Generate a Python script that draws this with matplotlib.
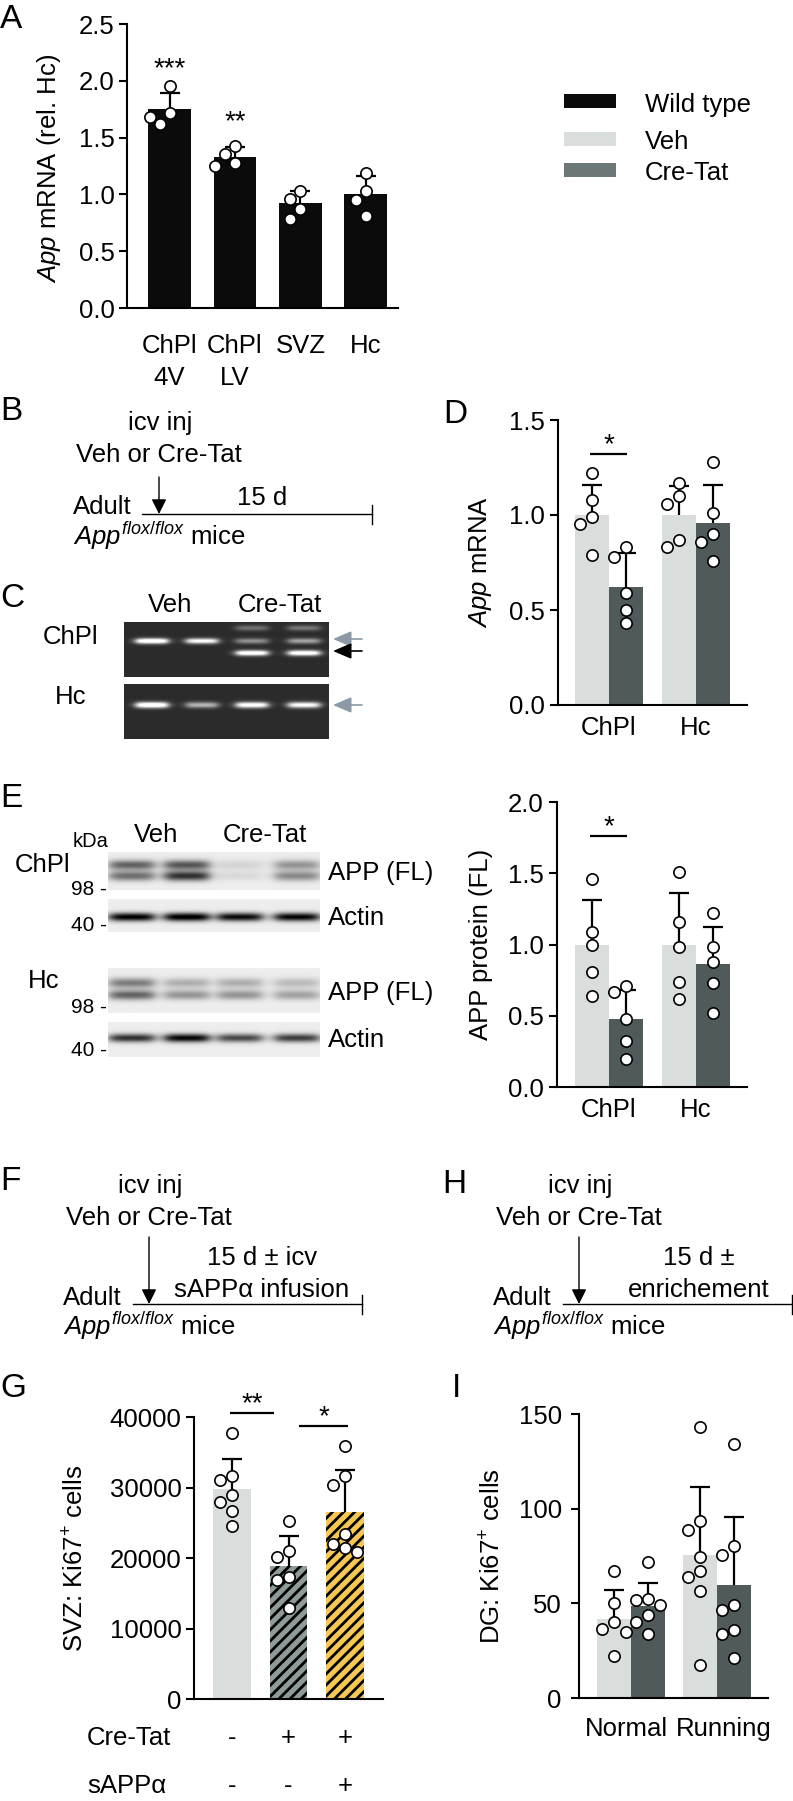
import numpy as np
import matplotlib
matplotlib.use("Agg")
import matplotlib.pyplot as plt
from matplotlib.patches import Rectangle
from matplotlib.transforms import blended_transform_factory, ScaledTranslation

W, H = 793, 1801
FS = 18.5
plt.rcParams['font.family'] = ['Liberation Sans', 'DejaVu Sans']
plt.rcParams['mathtext.fontset'] = 'custom'
plt.rcParams['mathtext.rm'] = 'Liberation Sans'
plt.rcParams['mathtext.it'] = 'Liberation Sans:italic'
plt.rcParams['hatch.linewidth'] = 2.0

# ---------------- data ----------------
a_categories = ["ChPl\n4V", "ChPl\nLV", "SVZ", "Hc"]
a_means = [1.75, 1.33, 0.92, 1.00]
a_sd = [0.14, 0.09, 0.11, 0.16]
a_points = [[1.95, 1.72, 1.68, 1.62], [1.43, 1.36, 1.28, 1.25],
            [1.03, 0.96, 0.87, 0.78], [1.19, 1.03, 0.95, 0.81]]
a_stars = ["***", "**", "", ""]
a_yticks = [0.0, 0.5, 1.0, 1.5, 2.0, 2.5]

legend_labels = ["Wild type", "Veh", "Cre-Tat"]

d_groups = ["ChPl", "Hc"]
d_veh_means = [1.00, 1.00]
d_veh_sd = [0.16, 0.15]
d_cre_means = [0.62, 0.96]
d_cre_sd = [0.18, 0.20]
d_veh_points = [[1.22, 1.08, 0.99, 0.95, 0.79], [1.17, 1.10, 1.06, 0.87, 0.83]]
d_cre_points = [[0.83, 0.78, 0.59, 0.50, 0.43], [1.28, 1.01, 0.90, 0.86, 0.76]]
d_yticks = [0.0, 0.5, 1.0, 1.5]
d_sig_y = 1.32

e_groups = ["ChPl", "Hc"]
e_veh_means = [1.00, 1.00]
e_veh_sd = [0.31, 0.36]
e_cre_means = [0.48, 0.86]
e_cre_sd = [0.20, 0.26]
e_veh_points = [[1.46, 1.09, 1.00, 0.81, 0.64], [1.51, 1.16, 0.98, 0.74, 0.62]]
e_cre_points = [[0.71, 0.67, 0.48, 0.32, 0.20], [1.22, 0.98, 0.88, 0.73, 0.52]]
e_yticks = [0.0, 0.5, 1.0, 1.5, 2.0]
e_sig_y = 1.76

g_conditions = ["Veh", "Cre-Tat", "Cre-Tat + sAPPα"]
g_means = [29800, 18900, 26500]
g_sd = [4300, 4250, 6000]
g_points = [[37780, 31650, 31040, 28920, 27880, 26650, 24530],
            [25280, 21040, 20190, 17260, 16890, 12880],
            [35900, 31600, 30420, 23350, 21930, 21370, 20800]]
g_cretat_row = ["-", "+", "+"]
g_sappa_row = ["-", "-", "+"]
g_yticks = [0, 10000, 20000, 30000, 40000]
g_sig_y = [40570, 38720]

i_groups = ["Normal", "Running"]
i_veh_means = [41.7, 75.4]
i_veh_sd = [15.5, 36.0]
i_cre_means = [48.8, 59.5]
i_cre_sd = [11.9, 36.1]
i_veh_points = [[66.9, 50.2, 40.0, 36.4, 34.9, 22.0],
                [143.0, 93.3, 88.9, 74.3, 66.9, 63.9, 56.7, 17.3]]
i_cre_points = [[71.8, 52.5, 51.6, 48.9, 44.0, 40.0, 33.8],
                [134.2, 80.1, 75.4, 48.9, 46.3, 35.7, 33.8, 21.1]]
i_yticks = [0, 50, 100, 150]

# gel band intensities (lanes: Veh, Veh, Cre-Tat, Cre-Tat)
gel_chpl_upper = [0.0, 0.0, 0.28, 0.30]
gel_chpl_floxed = [1.0, 0.85, 0.40, 0.48]
gel_chpl_deleted = [0.0, 0.0, 0.95, 0.95]
gel_hc_floxed = [1.0, 0.55, 0.90, 0.85]
# western blot band darkness
blot_chpl_app_upper = [0.55, 0.60, 0.10, 0.35]
blot_chpl_app_lower = [0.50, 0.75, 0.08, 0.40]
blot_chpl_actin = [0.95, 0.98, 0.90, 0.93]
blot_hc_app_upper = [0.45, 0.25, 0.25, 0.20]
blot_hc_app_lower = [0.55, 0.35, 0.35, 0.30]
blot_hc_actin = [0.75, 0.92, 0.65, 0.70]

# ---------------- style ----------------
WT = "#0b0b0b"
VEH = "#d9dedd"
CRE = "#505a5a"
CRE_LEG = "#6c7877"
STRIPE_GRAY = "#8e9b99"
YELLOW = "#f6c853"
ARROW_GRAY = "#8b9aa6"

fig = plt.figure(figsize=(W / 100, H / 100), dpi=100)


def px_axes(l, t, r, b):
    return fig.add_axes([l / W, 1 - b / H, (r - l) / W, (b - t) / H])


ov = px_axes(0, 0, W, H)
ov.set_xlim(0, W)
ov.set_ylim(H, 0)
ov.axis('off')


def T(x, y, s, ha='left', va='baseline', fs=FS, **kw):
    ov.text(x, y, s, ha=ha, va=va, fontsize=fs, **kw)


def style(ax, yticks, fmt, ypad, xpad):
    for s in ['top', 'right']:
        ax.spines[s].set_visible(False)
    for s in ['left', 'bottom']:
        ax.spines[s].set_linewidth(1.5)
    ax.set_yticks(yticks)
    ax.set_yticklabels([fmt.format(v) for v in yticks], fontsize=FS)
    ax.set_ylim(yticks[0], yticks[-1])
    ax.tick_params(axis='y', length=6, width=1.5, pad=ypad, direction='out')
    ax.tick_params(axis='x', length=0, pad=xpad, labelsize=FS)
    ax.patch.set_alpha(0)


def swarm_offsets(values, ppu_y, ppu_x, step=12.0, d=11.5):
    vals = np.asarray(values, float)
    order = np.argsort(-vals, kind='stable')
    placed = []
    offs = np.zeros(len(vals))
    for i in order:
        y = vals[i] * ppu_y
        x = 0.0
        for k in [0, -1, 1, -2, 2, -3, 3]:
            x = k * step
            if all((x - px) ** 2 + (y - py) ** 2 >= d * d for px, py in placed):
                break
        placed.append((x, y))
        offs[i] = x / ppu_x
    return offs


def draw_group(ax, x, mean, sd, pts, color, width, ppu_y, ppu_x, step=12.0, hatch=None):
    if hatch:
        ax.bar(x, mean, width, facecolor=color, edgecolor='k', hatch=hatch, linewidth=0, zorder=1)
    else:
        ax.bar(x, mean, width, color=color, linewidth=0, zorder=1)
    eb = ax.errorbar([x], [mean], yerr=[[0], [sd]], fmt='none', ecolor='k', elinewidth=1.6,
                     capsize=7, capthick=1.6, zorder=2)
    for cl in eb[1]:
        if np.allclose(cl.get_ydata(), mean):
            cl.set_visible(False)
    offs = swarm_offsets(pts, ppu_y, ppu_x, step=step)
    ax.scatter(x + offs, pts, s=66, facecolor='white', edgecolor='k', linewidth=1.2,
               zorder=3, clip_on=False)


def sig(ax, x0, x1, y, star, fs=20):
    ax.plot([x0, x1], [y, y], color='k', lw=1.6, clip_on=False, solid_capstyle='butt')
    ax.annotate(star, xy=((x0 + x1) / 2, y), xytext=(0, 1.5), textcoords='offset pixels',
                ha='center', va='baseline', fontsize=fs, annotation_clip=False)


# ---------------- panel A ----------------
axA = px_axes(127, 24, 398, 308)
xa = np.arange(len(a_categories))
axA.set_xlim(-0.649, 3.489)
style(axA, a_yticks, "{:.1f}", 3, 18.5)
for i in xa:
    draw_group(axA, i, a_means[i], a_sd[i], a_points[i], WT, 0.656, 284 / 2.5, 65.5, step=10)
    if a_stars[i]:
        axA.annotate(a_stars[i], xy=(i, a_means[i] + a_sd[i]), xytext=(0, 17),
                     textcoords='offset pixels', ha='center', va='baseline', fontsize=20,
                     annotation_clip=False)
axA.set_xticks(xa)
axA.set_xticklabels(a_categories, linespacing=1.45)
T(49, 168, r"$\mathit{App}$ mRNA (rel. Hc)", ha='center', va='center', rotation=90)
T(0, 28, "A", fs=24)

# legend
legend_colors = [WT, VEH, CRE_LEG]
for k, (lab, col) in enumerate(zip(legend_labels, legend_colors)):
    ytop = [94, 132, 163][k]
    ov.add_patch(Rectangle((564, ytop), 52, 14.5, facecolor=col, edgecolor='none'))
    T(645, [112, 149, 180][k], lab)

# ---------------- panel B ----------------
T(0, 420, "B", fs=24)
T(160, 430, "icv inj", ha='center')
T(159, 462, "Veh or Cre-Tat", ha='center')
T(73, 514, "Adult")
T(262, 505, "15 d", ha='center')
T(73, 545, r"$\mathit{App}^{\mathit{flox/flox}}$ mice")
ov.plot([142, 372], [514, 514], color='k', lw=1.0)
ov.plot([372, 372], [505, 524], color='k', lw=1.0)
ov.annotate('', xy=(159, 514), xytext=(159, 477),
            arrowprops=dict(arrowstyle='-|>,head_length=0.5,head_width=0.25', color='k', lw=1.0,
                            shrinkA=0, shrinkB=0, mutation_scale=18))


# ---------------- panel C (gel) ----------------
def band_image(h, w, lane_x, lane_w, rows, bands, sigma_y, bg, edge=1.5):
    yy = np.arange(h)[:, None] + 0.5
    xx = np.arange(w)[None, :] + 0.5
    img = np.full((h, w), bg, float)
    for row, ints in zip(rows, bands):
        py = np.exp(-0.5 * ((yy - row) / sigma_y) ** 2)
        for cx, a in zip(lane_x, ints):
            px = (1 / (1 + np.exp(-(xx - (cx - lane_w / 2)) / edge)) *
                  1 / (1 + np.exp((xx - (cx + lane_w / 2)) / edge)))
            img = img + a * px * py
    return np.clip(img, 0, 1)


T(0, 607, "C", fs=24)
T(170, 612, "Veh", ha='center')
T(280, 612, "Cre-Tat", ha='center')
T(43, 644, "ChPl")
T(55, 704, "Hc")
gel_lanes = [28, 78, 128, 180]
img1 = band_image(55, 205, gel_lanes, 32, [6, 19, 31],
                  [gel_chpl_upper, gel_chpl_floxed, gel_chpl_deleted], 2.0, 0.17, edge=2.5)
img2 = band_image(55, 205, gel_lanes, 32, [21], [gel_hc_floxed], 2.2, 0.17, edge=2.5)
ov.imshow(img1, cmap='gray', vmin=0, vmax=1, extent=(124, 329, 677, 622), aspect='auto',
          interpolation='bilinear')
ov.imshow(img2, cmap='gray', vmin=0, vmax=1, extent=(124, 329, 739, 684), aspect='auto',
          interpolation='bilinear')
for (yy, col) in [(639, ARROW_GRAY), (651, 'k'), (705, ARROW_GRAY)]:
    ov.annotate('', xy=(333, yy), xytext=(362, yy),
                arrowprops=dict(arrowstyle='-|>,head_length=0.7,head_width=0.3', color=col, lw=1.2,
                                shrinkA=0, shrinkB=0, mutation_scale=16))

# ---------------- panel E (blots) ----------------
T(0, 807, "E", fs=24)
T(73, 847, "kDa", fs=14.5)
T(156, 842, "Veh", ha='center')
T(265, 842, "Cre-Tat", ha='center')
T(15, 872, "ChPl")
T(28, 988, "Hc")
blot_lanes = [24, 79, 132, 189]
blots = [
    (852, 890, [13, 24], [blot_chpl_app_upper, blot_chpl_app_lower], 3.5, "APP (FL)", 880, "98 -", 895),
    (899, 932, [18], [blot_chpl_actin], 3.0, "Actin", 925, "40 -", 931),
    (968, 1013, [15, 27], [blot_hc_app_upper, blot_hc_app_lower], 3.5, "APP (FL)", 1000, "98 -", 1013),
    (1022, 1057, [16], [blot_hc_actin], 3.0, "Actin", 1047, "40 -", 1056),
]
for top, bot, rows, bands, sg, lab, lab_y, kda, kda_y in blots:
    img = band_image(bot - top, 212, blot_lanes, 44, rows, bands, sg, 0.07, edge=3.5)
    ov.imshow(img, cmap='gray_r', vmin=0, vmax=1, extent=(108, 320, bot, top), aspect='auto',
              interpolation='bilinear')
    T(328, lab_y, lab)
    T(107, kda_y, kda, ha='right', fs=15)
ov.set_xlim(0, W)
ov.set_ylim(H, 0)

# ---------------- panel D ----------------
T(443, 423, "D", fs=24)
axD = px_axes(558, 420, 747, 705)
axD.set_xlim(-0.586, 1.586)
style(axD, d_yticks, "{:.1f}", 3.5, 8)
for g in range(len(d_groups)):
    draw_group(axD, g - 0.195, d_veh_means[g], d_veh_sd[g], d_veh_points[g], VEH, 0.39, 285 / 1.5, 87)
    draw_group(axD, g + 0.195, d_cre_means[g], d_cre_sd[g], d_cre_points[g], CRE, 0.39, 285 / 1.5, 87)
axD.set_xticks(range(len(d_groups)))
axD.set_xticklabels(d_groups)
sig(axD, -0.22, 0.21, d_sig_y, "*")
T(480, 562, r"$\mathit{App}$ mRNA", ha='center', va='center', rotation=90)

# ---------------- panel E chart ----------------
axE = px_axes(557, 802, 747, 1087)
axE.set_xlim(-0.598, 1.586)
style(axE, e_yticks, "{:.1f}", 3.5, 8)
for g in range(len(e_groups)):
    draw_group(axE, g - 0.195, e_veh_means[g], e_veh_sd[g], e_veh_points[g], VEH, 0.39, 285 / 2.0, 87)
    draw_group(axE, g + 0.195, e_cre_means[g], e_cre_sd[g], e_cre_points[g], CRE, 0.39, 285 / 2.0, 87)
axE.set_xticks(range(len(e_groups)))
axE.set_xticklabels(e_groups)
sig(axE, -0.22, 0.21, e_sig_y, "*")
T(481, 944, "APP protein (FL)", ha='center', va='center', rotation=90)

# ---------------- panels F / H ----------------
for dx, letter, lx, ly, line1, line2, tx in [
        (0, "F", 0, 1190, "15 d ± icv", "sAPPα infusion", 262),
        (430, "H", 442, 1193, "15 d ±", "enrichement", 699)]:
    T(lx, ly, letter, fs=24)
    T(150 + dx, 1193, "icv inj", ha='center')
    T(149 + dx, 1225, "Veh or Cre-Tat", ha='center')
    T(tx, 1265, line1, ha='center')
    T(tx, 1297, line2, ha='center')
    T(63 + dx, 1305, "Adult")
    T(63 + dx, 1335, r"$\mathit{App}^{\mathit{flox/flox}}$ mice")
    ov.plot([133 + dx, 362 + dx], [1304, 1304], color='k', lw=1.0)
    ov.plot([362 + dx, 362 + dx], [1295, 1314], color='k', lw=1.0)
    ov.annotate('', xy=(149 + dx, 1304), xytext=(149 + dx, 1237),
                arrowprops=dict(arrowstyle='-|>,head_length=0.5,head_width=0.25', color='k',
                                lw=1.0, shrinkA=0, shrinkB=0, mutation_scale=18))

# ---------------- panel G ----------------
T(0, 1397, "G", fs=24)
axG = px_axes(194, 1417, 383, 1699)
axG.set_xlim(-0.673, 2.673)
style(axG, g_yticks, "{:d}", 3, 0)
g_colors = [VEH, STRIPE_GRAY, YELLOW]
g_hatches = [None, '///', '///']
for k in range(len(g_conditions)):
    draw_group(axG, k, g_means[k], g_sd[k], g_points[k], g_colors[k], 0.66, 282 / 40000, 56.5,
               hatch=g_hatches[k])
axG.set_xticks([])
sig(axG, -0.035, 0.74, g_sig_y[0], "**")
sig(axG, 1.19, 2.05, g_sig_y[1], "*")
T(76, 1558, r"SVZ: Ki67$^{+}$ cells", ha='center', va='center', rotation=90)
trG = blended_transform_factory(axG.transData, ov.transData)
T(87, 1745, "Cre-Tat")
T(87, 1793, "sAPPα")
for k in range(len(g_conditions)):
    axG.text(k, 1745, g_cretat_row[k], transform=trG, ha='center', va='baseline', fontsize=FS, clip_on=False)
    axG.text(k, 1793, g_sappa_row[k], transform=trG, ha='center', va='baseline', fontsize=FS, clip_on=False)

# ---------------- panel I ----------------
T(452, 1397, "I", fs=24)
axI = px_axes(579, 1414, 768, 1698)
axI.set_xlim(-0.605, 1.593)
style(axI, i_yticks, "{:d}", 6.5, 14)
for g in range(len(i_groups)):
    draw_group(axI, g - 0.198, i_veh_means[g], i_veh_sd[g], i_veh_points[g], VEH, 0.396, 284 / 150, 86)
    draw_group(axI, g + 0.198, i_cre_means[g], i_cre_sd[g], i_cre_points[g], CRE, 0.396, 284 / 150, 86)
axI.set_xticks(range(len(i_groups)))
axI.set_xticklabels(i_groups)
for lab, shift in zip(axI.get_xticklabels(), [-5, 7]):
    lab.set_transform(lab.get_transform() + ScaledTranslation(shift / 100, 0, fig.dpi_scale_trans))
T(493, 1556, r"DG: Ki67$^{+}$ cells", ha='center', va='center', rotation=90)

fig.savefig("out.png", dpi=100)
